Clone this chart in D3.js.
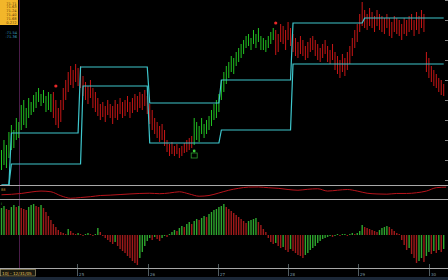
<!DOCTYPE html>
<html>
<head>
<meta charset="utf-8">
<script src="https://cdn.jsdelivr.net/npm/d3@7"></script>
<style>
  html, body { margin: 0; padding: 0; background: #000; overflow: hidden; }
</style>
</head>
<body>
<div id="wrapper"></div>
<script>
// price bars, one per period
const highs = [
  70.50, 70.60, 70.55, 70.68, 70.75, 70.70, 70.82, 70.78, 70.95, 71.00,
  70.92, 71.02, 70.98, 71.05, 71.08, 71.12, 71.06, 71.10, 71.04, 71.08,
  71.06, 71.08, 71.00, 70.92, 71.00, 71.12, 71.20, 71.28, 71.34, 71.30,
  71.36, 71.32, 71.34, 71.24, 71.18, 71.14, 71.20, 71.12, 71.08, 71.02,
  70.96, 70.98, 70.94, 71.00, 70.96, 70.94, 71.00, 70.96, 71.02, 70.98,
  71.00, 71.04, 70.98, 71.02, 71.06, 71.04, 71.08, 71.06, 71.10, 71.04,
  70.96, 70.90, 70.82, 70.78, 70.74, 70.76, 70.70, 70.60, 70.56, 70.58,
  70.54, 70.56, 70.52, 70.54, 70.57, 70.60, 70.62, 70.64, 70.82, 70.78,
  70.74, 70.82, 70.76, 70.80, 70.84, 70.90, 70.96, 71.00, 71.06, 71.20,
  71.28, 71.34, 71.38, 71.44, 71.42, 71.48, 71.52, 71.56, 71.60, 71.64,
  71.66, 71.62, 71.70, 71.66, 71.72, 71.64, 71.62, 71.60, 71.64, 71.68,
  71.72, 71.70, 71.66, 71.76, 71.74, 71.70, 71.78, 71.72, 71.66, 71.62,
  71.58, 71.64, 71.60, 71.54, 71.58, 71.62, 71.64, 71.60, 71.56, 71.52,
  71.56, 71.60, 71.54, 71.50, 71.56, 71.48, 71.44, 71.40, 71.46, 71.42,
  71.48, 71.54, 71.62, 71.70, 71.76, 71.86, 71.98, 71.90, 71.86, 71.92,
  71.88, 71.84, 71.90, 71.86, 71.84, 71.82, 71.86, 71.82, 71.78, 71.84,
  71.82, 71.80, 71.76, 71.82, 71.80, 71.84, 71.86, 71.80, 71.88, 71.84,
  71.90, 71.86, 71.48, 71.42, 71.34, 71.30, 71.26, 71.22, 71.20, 71.16
]
const lows = [
  70.30, 70.35, 70.32, 70.42, 70.50, 70.52, 70.60, 70.62, 70.70, 70.75,
  70.72, 70.82, 70.85, 70.88, 70.92, 70.98, 70.94, 70.97, 70.88, 70.90,
  70.88, 70.82, 70.75, 70.72, 70.78, 70.90, 71.00, 71.08, 71.15, 71.12,
  71.18, 71.14, 71.12, 71.04, 71.00, 70.96, 71.02, 70.92, 70.88, 70.84,
  70.80, 70.83, 70.78, 70.85, 70.82, 70.76, 70.82, 70.80, 70.86, 70.82,
  70.84, 70.88, 70.82, 70.87, 70.90, 70.88, 70.92, 70.90, 70.94, 70.86,
  70.76, 70.70, 70.66, 70.62, 70.58, 70.60, 70.54, 70.48, 70.44, 70.46,
  70.44, 70.46, 70.42, 70.44, 70.47, 70.48, 70.50, 70.52, 70.55, 70.60,
  70.58, 70.66, 70.62, 70.66, 70.70, 70.74, 70.80, 70.82, 70.88, 71.00,
  71.08, 71.16, 71.22, 71.28, 71.26, 71.34, 71.38, 71.42, 71.46, 71.52,
  71.54, 71.50, 71.56, 71.52, 71.58, 71.50, 71.50, 71.48, 71.52, 71.56,
  71.60, 71.45, 71.48, 71.58, 71.56, 71.50, 71.60, 71.54, 71.48, 71.44,
  71.42, 71.46, 71.44, 71.40, 71.42, 71.48, 71.50, 71.44, 71.40, 71.38,
  71.42, 71.46, 71.38, 71.36, 71.40, 71.30, 71.26, 71.22, 71.28, 71.24,
  71.30, 71.36, 71.44, 71.52, 71.58, 71.68, 71.74, 71.72, 71.70, 71.74,
  71.72, 71.68, 71.74, 71.70, 71.68, 71.66, 71.72, 71.64, 71.62, 71.68,
  71.66, 71.64, 71.60, 71.66, 71.64, 71.68, 71.70, 71.64, 71.70, 71.66,
  71.72, 71.68, 71.28, 71.22, 71.18, 71.14, 71.12, 71.08, 71.05, 71.04
]
const trendRuns = [
  { from: 0, to: 20, dir: "up" },
  { from: 21, to: 77, dir: "down" },
  { from: 78, to: 110, dir: "up" },
  { from: 111, to: 179, dir: "down" }
]
// previous-day high / low channel: [first bar, level]
const upperSteps = [[0, 70.15], [4, 70.67], [32, 71.33], [60, 70.97], [89, 71.20], [118, 71.77], [147, 71.82]]
const lowerSteps = [[0, 70.15], [4, 70.36], [33, 71.14], [60, 70.57], [89, 70.70], [118, 71.36]]
const signals = [
  { i: 22, price: 71.14, kind: "sell" },
  { i: 111, price: 71.77, kind: "sell" },
  { i: 78, price: 70.49, kind: "buy" }
]
// oscillator sampled every 4 bars
const oscStep = 4
const oscValues = [
  31, 35, 42, 54, 62, 56, 23, 2, 8, 15,
  25, 28, 33, 38, 42, 44, 40, 46, 56, 38,
  19, 25, 46, 69, 85, 95, 96, 90, 85, 75,
  69, 77, 81, 62, 69, 75, 62, 44, 38, 36,
  42, 42, 48, 62, 90, 95
]
const histValues = [
  0.27, 0.29, 0.26, 0.25, 0.28, 0.30, 0.28, 0.29, 0.27, 0.26,
  0.25, 0.28, 0.30, 0.31, 0.29, 0.28, 0.30, 0.27, 0.23, 0.19,
  0.15, 0.11, 0.08, 0.05, 0.03, 0.02, 0.01, 0.06, 0.04, 0.02,
  0.01, 0.02, 0.01, -0.01, 0.01, 0.02, 0.01, -0.01, 0.01, 0.07,
  0.03, -0.01, -0.03, -0.05, -0.07, -0.09, -0.07, -0.11, -0.14, -0.16,
  -0.18, -0.21, -0.23, -0.26, -0.28, -0.30, -0.23, -0.17, -0.11, -0.06,
  -0.03, -0.05, -0.02, -0.04, -0.06, -0.03, -0.01, -0.02, 0.01, 0.03,
  0.05, 0.04, 0.07, 0.09, 0.08, 0.11, 0.13, 0.11, 0.14, 0.16,
  0.15, 0.17, 0.19, 0.18, 0.21, 0.23, 0.25, 0.26, 0.28, 0.29,
  0.31, 0.28, 0.26, 0.24, 0.22, 0.20, 0.18, 0.16, 0.14, 0.12,
  0.14, 0.15, 0.16, 0.17, 0.13, 0.10, 0.06, 0.03, -0.03, -0.07,
  -0.09, -0.08, -0.11, -0.13, -0.12, -0.15, -0.17, -0.14, -0.16, -0.18,
  -0.20, -0.21, -0.23, -0.20, -0.18, -0.15, -0.13, -0.11, -0.08, -0.06,
  -0.04, -0.03, -0.02, -0.01, -0.02, -0.01, 0.01, -0.01, 0.01, 0.01,
  -0.01, 0.01, 0.02, 0.01, 0.02, 0.04, 0.10, 0.08, 0.07, 0.06,
  0.05, 0.04, 0.03, 0.05, 0.07, 0.08, 0.09, 0.08, 0.06, 0.04,
  0.02, 0.01, -0.05, -0.10, -0.15, -0.13, -0.19, -0.23, -0.28, -0.26,
  -0.23, -0.27, -0.21, -0.17, -0.19, -0.16, -0.18, -0.15, -0.17, -0.14
]
const dayTicks = [30.6, 59.3, 87.6, 116, 144.3, 173]
const dayLabels = ["25", "26", "27", "28", "29", "30"]
const infoLines = ["71.71", "71.63", "71.24", "71.40", "71.68", "0.272"]
const cursorLines = ["-71.54", "-71.36"]

const dimensions = {
  width: 448,
  height: 280,
  main: { top: 0, bottom: 185 },
  osc: { top: 186, bottom: 199 },
  hist: { top: 200, bottom: 268 }
}

const colors = {
  up: "#22c322",
  down: "#c81616",
  histUp: "#2ea62e",
  histDown: "#a01a1a",
  band: "#3ec6cc",
  grid: "#a8a8a8",
  osc: "#b8141c"
}

const svg = d3.select("#wrapper")
  .append("svg")
    .attr("width", dimensions.width)
    .attr("height", dimensions.height)
    .style("display", "block")
    .style("font-family", "DejaVu Sans, sans-serif")

svg.append("rect")
  .attr("width", dimensions.width)
  .attr("height", dimensions.height)
  .attr("fill", "#000")

const xScale = d3.scaleLinear()
  .domain([0, highs.length - 1])
  .range([1.5, 443.7])

const yPrice = d3.scaleLinear()
  .domain([70.15, 72.00])
  .range([dimensions.main.bottom, dimensions.main.top])

const yOsc = d3.scaleLinear()
  .domain([0, 100])
  .range([dimensions.osc.bottom - 0.5, dimensions.osc.top + 0.5])

const yHist = d3.scaleLinear()
  .domain([-0.33, 0.35])
  .range([dimensions.hist.bottom, dimensions.hist.top])

const trendOf = i => trendRuns.find(r => i >= r.from && i <= r.to).dir
const stepValue = (steps, i) => steps.filter(s => s[0] <= i).pop()[1]

// cursor line
svg.append("line")
  .attr("x1", 19.5).attr("x2", 19.5)
  .attr("y1", 0).attr("y2", dimensions.hist.bottom)
  .attr("stroke", "#4a1c48")
  .attr("stroke-width", 1)

// main pane
svg.append("clipPath").attr("id", "mainClip")
  .append("rect")
    .attr("x", 0).attr("y", 0)
    .attr("width", dimensions.width).attr("height", dimensions.main.bottom)

const main = svg.append("g").attr("clip-path", "url(#mainClip)")

const barIdx = d3.range(highs.length)

main.selectAll("rect.bar")
  .data(barIdx)
  .join("rect")
    .attr("class", "bar")
    .attr("x", i => xScale(i) - 0.5)
    .attr("y", i => yPrice(highs[i]))
    .attr("width", 1)
    .attr("height", i => yPrice(lows[i]) - yPrice(highs[i]))
    .attr("fill", i => trendOf(i) === "up" ? colors.up : colors.down)

const bandLine = steps => d3.line()
  .x(i => xScale(i))
  .y(i => yPrice(stepValue(steps, i)))

main.append("path")
  .attr("d", bandLine(upperSteps)(barIdx))
  .attr("fill", "none")
  .attr("stroke", colors.band)
  .attr("stroke-width", 1.2)

main.append("path")
  .attr("d", bandLine(lowerSteps)(barIdx))
  .attr("fill", "none")
  .attr("stroke", colors.band)
  .attr("stroke-width", 1.2)

signals.forEach(s => {
  const cx = xScale(s.i)
  const cy = yPrice(s.price)
  if (s.kind === "sell") {
    main.append("circle")
      .attr("cx", cx).attr("cy", cy).attr("r", 1.6)
      .attr("fill", "#e82828")
  } else {
    main.append("circle")
      .attr("cx", cx).attr("cy", cy).attr("r", 1.4)
      .attr("fill", "#3cd03c")
    main.append("rect")
      .attr("x", cx - 3).attr("y", cy + 2)
      .attr("width", 6).attr("height", 5)
      .attr("fill", "none")
      .attr("stroke", "#2c9a2c")
      .attr("stroke-width", 0.8)
  }
})

// right side price ticks
const priceTicks = yPrice.ticks(6)
svg.selectAll("line.ptick")
  .data(priceTicks)
  .join("line")
    .attr("class", "ptick")
    .attr("x1", 445).attr("x2", 448)
    .attr("y1", d => Math.round(yPrice(d)) + 0.5)
    .attr("y2", d => Math.round(yPrice(d)) + 0.5)
    .attr("stroke", "#888")

// info box
svg.append("rect")
  .attr("x", 0).attr("y", 0)
  .attr("width", 18).attr("height", 25)
  .attr("fill", "#f2b62a")
svg.selectAll("text.info")
  .data(infoLines)
  .join("text")
    .attr("class", "info")
    .attr("x", 16.5)
    .attr("y", (d, i) => 4.5 + i * 3.9)
    .attr("text-anchor", "end")
    .attr("font-size", 3.6)
    .attr("fill", "#5a3a08")
    .text(d => d)
svg.selectAll("text.cursor")
  .data(cursorLines)
  .join("text")
    .attr("class", "cursor")
    .attr("x", 17)
    .attr("y", (d, i) => 34 + i * 4)
    .attr("text-anchor", "end")
    .attr("font-size", 3.6)
    .attr("fill", "#3aa0c0")
    .text(d => d)

// separators
const seps = [dimensions.main.bottom + 0.5, dimensions.osc.bottom + 0.5, dimensions.hist.bottom + 0.5]
svg.selectAll("line.sep")
  .data(seps)
  .join("line")
    .attr("class", "sep")
    .attr("x1", 0).attr("x2", dimensions.width)
    .attr("y1", d => d).attr("y2", d => d)
    .attr("stroke", colors.grid)
    .attr("stroke-width", 1)

// oscillator pane
const oscLine = d3.line()
  .x((d, k) => xScale(k * oscStep))
  .y(d => yOsc(d))
  .curve(d3.curveMonotoneX)

svg.append("path")
  .attr("d", oscLine(oscValues))
  .attr("fill", "none")
  .attr("stroke", colors.osc)
  .attr("stroke-width", 1)

svg.append("text")
  .attr("x", 1).attr("y", 191)
  .attr("font-size", 3.5)
  .attr("fill", "#c8a040")
  .text("88")

// histogram pane
svg.selectAll("rect.hist")
  .data(histValues)
  .join("rect")
    .attr("class", "hist")
    .attr("x", (d, i) => xScale(i) - 0.7)
    .attr("width", 1.4)
    .attr("y", d => yHist(Math.max(0, d)))
    .attr("height", d => Math.abs(yHist(d) - yHist(0)))
    .attr("fill", (d, i) => (i === 0 || d >= histValues[i - 1]) ? colors.histUp : colors.histDown)

svg.append("text")
  .attr("x", 1).attr("y", 205)
  .attr("font-size", 3.5)
  .attr("fill", "#40c040")
  .text("i")

// time axis
svg.selectAll("line.dtick")
  .data(dayTicks)
  .join("line")
    .attr("class", "dtick")
    .attr("x1", d => Math.round(xScale(d)) + 0.5)
    .attr("x2", d => Math.round(xScale(d)) + 0.5)
    .attr("y1", dimensions.hist.bottom - 4)
    .attr("y2", dimensions.hist.bottom + 8)
    .attr("stroke", "#8a9aa0")
    .attr("stroke-width", 0.6)

svg.selectAll("text.dlabel")
  .data(dayTicks)
  .join("text")
    .attr("class", "dlabel")
    .attr("x", d => xScale(d) + 2)
    .attr("y", 275.5)
    .attr("font-size", 4)
    .attr("fill", "#7e9aa6")
    .text((d, i) => dayLabels[i])

svg.append("rect")
  .attr("x", 0).attr("y", 277)
  .attr("width", dimensions.width).attr("height", 3)
  .attr("fill", "#1c2838")

svg.append("rect")
  .attr("x", 0.5).attr("y", 269.5)
  .attr("width", 35).attr("height", 6.5)
  .attr("fill", "#1a1a10")
  .attr("stroke", "#b8a878")
  .attr("stroke-width", 0.6)
svg.append("text")
  .attr("x", 2).attr("y", 274.5)
  .attr("font-size", 4.2)
  .attr("fill", "#e8c460")
  .text("10| - 12/31/05")
</script>
</body>
</html>
